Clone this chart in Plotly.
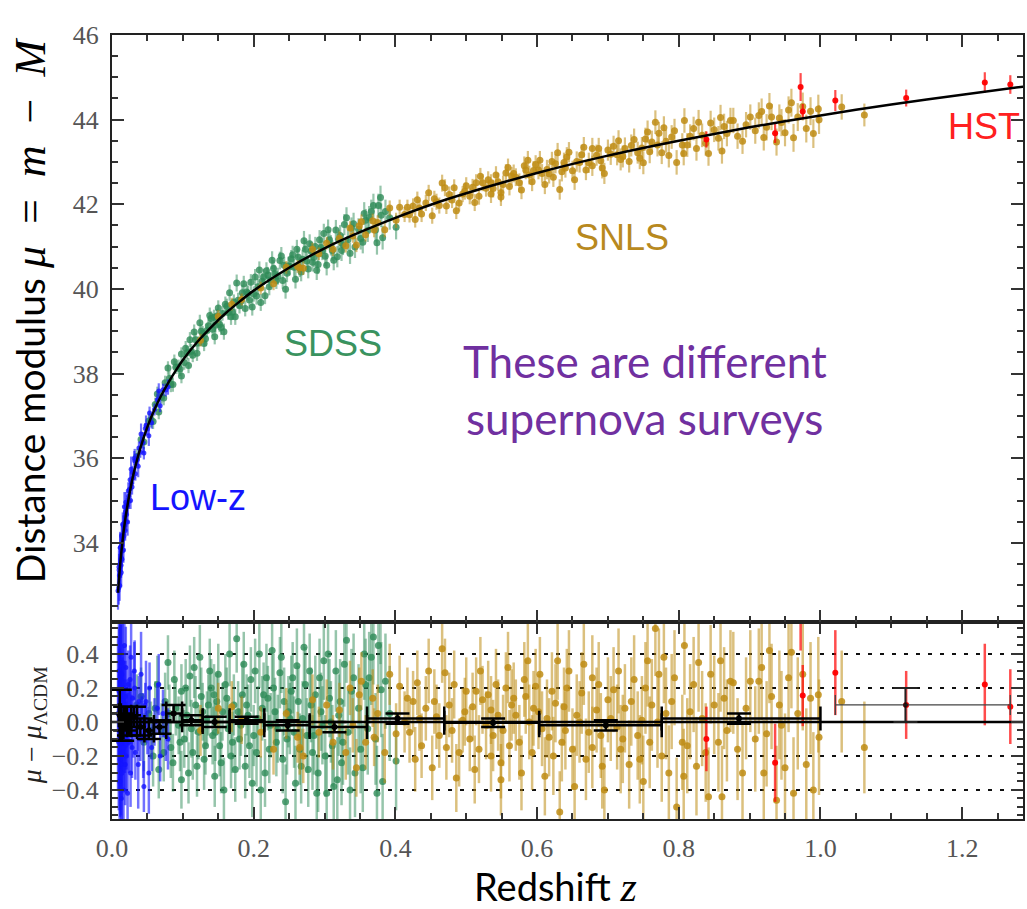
import plotly.graph_objects as go

# ---------------- model curve (LCDM) ----------------
curve_z = [0.0085, 0.009, 0.010, 0.012, 0.014, 0.016, 0.018, 0.020, 0.025, 0.030, 0.035, 0.040,
           0.050, 0.060, 0.070, 0.080, 0.090, 0.100, 0.120, 0.140, 0.160, 0.180, 0.200, 0.250,
           0.300, 0.350, 0.400, 0.450, 0.500, 0.600, 0.700, 0.800, 0.900, 1.000, 1.100, 1.200, 1.300]
curve_mu = [32.82, 32.95, 33.18, 33.58, 33.91, 34.21, 34.47, 34.70, 35.19, 35.60, 35.94, 36.24,
            36.74, 37.15, 37.50, 37.80, 38.07, 38.32, 38.74, 39.10, 39.42, 39.70, 39.96, 40.50,
            40.96, 41.34, 41.68, 41.99, 42.26, 42.74, 43.15, 43.50, 43.82, 44.10, 44.36, 44.59, 44.81]
zero_z = [0.0, 1.3]
zero_resid = [0.0, 0.0]

# ---------------- Low-z (blue) ----------------
lowz_z = [0.0085, 0.0095, 0.0098, 0.0100, 0.0105, 0.0108, 0.0110, 0.0115, 0.0118, 0.0120,
          0.0125, 0.0128, 0.0130, 0.0135, 0.0138, 0.0140, 0.0145, 0.0148, 0.0152, 0.0155,
          0.0160, 0.0162, 0.0168, 0.0172, 0.0175, 0.0182, 0.0186, 0.0190, 0.0195, 0.0200,
          0.0205, 0.0210, 0.0220, 0.0230, 0.0235, 0.0240, 0.0250, 0.0255, 0.0262, 0.0275,
          0.0283, 0.0290, 0.0300, 0.0315, 0.0330, 0.0345, 0.0360, 0.0380, 0.0400, 0.0420,
          0.0450, 0.0470, 0.0500, 0.0530, 0.0560, 0.0600, 0.0640, 0.0680, 0.0720, 0.0760,
          0.0320, 0.0370, 0.0410, 0.0440, 0.0480, 0.0520, 0.0270, 0.0220, 0.0175, 0.0130,
          0.0115, 0.0660, 0.0790]
lowz_mu = [32.87, 32.94, 33.43, 33.36, 33.23, 32.99, 33.49, 33.26, 33.89, 33.60,
           33.91, 33.47, 33.65, 33.91, 34.16, 33.61, 33.81, 34.16, 34.44, 34.10,
           34.41, 33.83, 34.16, 34.47, 34.43, 34.41, 34.29, 34.74, 34.96, 34.50,
           34.67, 34.86, 34.89, 35.23, 35.10, 34.98, 35.27, 35.49, 35.00, 35.40,
           35.32, 35.66, 35.54, 36.00, 35.63, 35.96, 35.97, 36.24, 36.14, 36.37,
           36.12, 36.70, 36.69, 37.07, 36.84, 37.15, 37.38, 37.24, 37.62, 37.61,
           35.94, 35.81, 36.57, 36.37, 36.77, 36.53, 35.74, 34.49, 34.85, 33.30,
           33.88, 37.59, 37.68]
lowz_dmu = [0.05, -0.12, 0.30, 0.18, -0.05, -0.35, 0.10, -0.22, 0.35, 0.02,
            0.25, -0.25, -0.10, 0.08, 0.28, -0.30, -0.18, 0.12, 0.35, -0.04,
            0.20, -0.40, -0.15, 0.10, 0.03, -0.08, -0.25, 0.15, 0.32, -0.20,
            -0.08, 0.05, -0.02, 0.22, 0.05, -0.12, 0.08, 0.25, -0.30, 0.00,
            -0.15, 0.14, -0.06, 0.30, -0.18, 0.05, -0.03, 0.12, -0.10, 0.02,
            -0.38, 0.10, -0.05, 0.20, -0.15, 0.00, 0.08, -0.20, 0.05, -0.08,
            0.20, -0.25, 0.28, -0.08, 0.12, -0.30, 0.38, -0.42, 0.45, -0.45,
            0.40, 0.22, -0.10]
lowz_err = [0.45, 0.40, 0.40, 0.38, 0.35, 0.36, 0.33, 0.34, 0.33, 0.30,
            0.32, 0.30, 0.28, 0.27, 0.30, 0.30, 0.28, 0.26, 0.28, 0.25,
            0.24, 0.30, 0.25, 0.24, 0.22, 0.22, 0.24, 0.21, 0.24, 0.22,
            0.20, 0.20, 0.19, 0.20, 0.19, 0.18, 0.17, 0.20, 0.20, 0.16,
            0.18, 0.16, 0.15, 0.17, 0.16, 0.14, 0.14, 0.15, 0.13, 0.13,
            0.15, 0.13, 0.14, 0.15, 0.14, 0.14, 0.15, 0.15, 0.14, 0.15,
            0.28, 0.26, 0.25, 0.25, 0.24, 0.24, 0.30, 0.32, 0.35, 0.35,
            0.38, 0.18, 0.18]

# ---------------- SDSS (green) ----------------
sdss_z = [0.035, 0.045, 0.052, 0.058, 0.064, 0.066, 0.070, 0.075, 0.079, 0.083,
          0.086, 0.090, 0.094, 0.098, 0.098, 0.102, 0.106, 0.108, 0.110, 0.114,
          0.118, 0.122, 0.124, 0.126, 0.130, 0.134, 0.138, 0.140, 0.142, 0.145,
          0.148, 0.150, 0.152, 0.156, 0.158, 0.160, 0.164, 0.166, 0.168, 0.170,
          0.172, 0.176, 0.180, 0.184, 0.186, 0.188, 0.190, 0.192, 0.196, 0.198,
          0.200, 0.204, 0.208, 0.212, 0.214, 0.216, 0.220, 0.224, 0.226, 0.228,
          0.232, 0.234, 0.237, 0.241, 0.243, 0.245, 0.249, 0.253, 0.255, 0.257,
          0.259, 0.261, 0.265, 0.269, 0.271, 0.273, 0.277, 0.281, 0.283, 0.285,
          0.289, 0.293, 0.297, 0.299, 0.303, 0.307, 0.311, 0.316, 0.318, 0.320,
          0.324, 0.328, 0.333, 0.338, 0.343, 0.348, 0.354, 0.358, 0.363, 0.366,
          0.372, 0.376, 0.379, 0.380, 0.382, 0.392, 0.401,
          0.041, 0.055, 0.061, 0.073, 0.081, 0.088, 0.096, 0.104, 0.112, 0.116,
          0.120, 0.128, 0.132, 0.136, 0.144, 0.146, 0.154, 0.162, 0.174, 0.178,
          0.182, 0.194, 0.202, 0.206, 0.210, 0.218, 0.222, 0.230, 0.239, 0.247,
          0.251, 0.263, 0.267, 0.275, 0.279, 0.287, 0.291, 0.295, 0.301, 0.305,
          0.309, 0.313, 0.322, 0.326, 0.331, 0.336, 0.341, 0.351, 0.356, 0.361,
          0.369, 0.374, 0.386]
sdss_mu = [36.04, 36.38, 36.88, 36.87, 37.52, 37.09, 37.45, 37.78, 38.13, 37.74,
           37.74, 38.15, 38.16, 38.46, 37.94, 38.26, 38.49, 38.19, 38.80, 38.43,
           38.80, 38.72, 39.20, 39.00, 38.71, 39.02, 39.37, 39.30, 39.05, 38.87,
           39.36, 39.55, 39.16, 39.42, 38.99, 39.64, 39.44, 39.91, 39.34, 39.45,
           39.69, 40.14, 39.60, 39.91, 40.12, 39.54, 39.93, 39.90, 40.16, 39.57,
           39.88, 39.83, 40.45, 40.18, 40.28, 39.84, 40.33, 40.21, 40.68, 40.48,
           40.20, 40.30, 40.67, 40.20, 40.56, 39.99, 40.55, 40.71, 40.81, 40.51,
           40.23, 40.94, 40.49, 40.70, 41.14, 40.94, 40.47, 40.89, 40.63, 40.75,
           40.44, 41.16, 40.91, 41.31, 40.56, 41.16, 40.91, 41.39, 40.76, 41.16,
           40.91, 41.52, 41.16, 41.44, 40.99, 41.41, 41.10, 41.62, 41.69, 41.83,
           41.39, 41.97, 42.16, 41.74, 41.21, 41.68, 41.46,
           36.44, 36.90, 37.27, 37.42, 37.89, 38.28, 38.11, 38.60, 38.53, 38.98,
           38.48, 38.95, 38.82, 39.13, 39.33, 39.14, 39.09, 39.59, 39.34, 39.73,
           39.71, 39.74, 40.28, 40.05, 39.68, 40.43, 40.05, 40.36, 40.78, 40.37,
           40.53, 40.75, 40.40, 40.66, 41.07, 41.00, 40.58, 40.98, 40.77, 41.40,
           41.03, 40.68, 41.26, 41.05, 41.68, 40.84, 41.54, 41.19, 41.78, 41.38,
           41.97, 41.09, 41.83]
sdss_dmu = [0.10, -0.12, 0.05, -0.20, 0.22, -0.28, -0.05, 0.12, 0.35, -0.15,
            -0.24, 0.08, -0.02, 0.18, -0.34, -0.10, 0.04, -0.30, 0.27, -0.18,
            0.10, -0.06, 0.38, 0.15, -0.22, 0.02, 0.30, 0.20, -0.08, -0.32,
            0.12, 0.28, -0.14, 0.06, -0.40, 0.22, -0.04, 0.40, -0.20, -0.12,
            0.10, 0.49, -0.10, 0.16, 0.34, -0.26, 0.10, 0.04, 0.25, -0.36,
            -0.08, -0.18, 0.40, 0.08, 0.16, -0.30, 0.14, -0.02, 0.42, 0.20,
            -0.12, -0.04, 0.29, -0.22, 0.12, -0.47, 0.06, 0.18, 0.26, -0.06,
            -0.36, 0.33, -0.16, 0.02, 0.44, 0.22, -0.28, 0.10, -0.18, -0.08,
            -0.42, 0.26, -0.02, 0.36, -0.42, 0.14, -0.14, 0.30, -0.34, 0.04,
            -0.24, 0.34, -0.06, 0.18, -0.30, 0.08, -0.27, 0.22, 0.26, 0.38,
            -0.10, 0.45, 0.62, 0.19, -0.35, 0.05, -0.23,
            0.15, -0.05, 0.08, -0.18, 0.05, 0.25, -0.12, 0.20, -0.04, 0.32,
            -0.26, 0.06, -0.14, 0.10, 0.16, -0.06, -0.24, 0.14, -0.28, 0.06,
            -0.02, -0.14, 0.30, 0.02, -0.40, 0.26, -0.16, 0.06, 0.38, -0.10,
            0.02, 0.12, -0.26, -0.08, 0.30, 0.16, -0.30, 0.06, -0.20, 0.40,
            0.00, -0.38, 0.12, -0.12, 0.48, -0.40, 0.26, -0.16, 0.40, -0.04,
            0.50, -0.42, 0.24]
sdss_err = [0.18, 0.17, 0.16, 0.18, 0.17, 0.17, 0.16, 0.17, 0.16, 0.18,
            0.17, 0.16, 0.17, 0.16, 0.17, 0.17, 0.16, 0.18, 0.18, 0.16,
            0.17, 0.16, 0.19, 0.17, 0.18, 0.16, 0.19, 0.17, 0.17, 0.18,
            0.17, 0.18, 0.18, 0.17, 0.19, 0.18, 0.17, 0.19, 0.19, 0.18,
            0.18, 0.20, 0.18, 0.19, 0.19, 0.19, 0.18, 0.18, 0.19, 0.20,
            0.18, 0.20, 0.20, 0.19, 0.19, 0.20, 0.19, 0.19, 0.21, 0.20,
            0.20, 0.20, 0.21, 0.20, 0.20, 0.22, 0.21, 0.21, 0.21, 0.21,
            0.22, 0.22, 0.21, 0.22, 0.23, 0.22, 0.22, 0.22, 0.22, 0.23,
            0.23, 0.23, 0.23, 0.23, 0.24, 0.23, 0.24, 0.24, 0.25, 0.24,
            0.25, 0.25, 0.25, 0.25, 0.26, 0.26, 0.26, 0.27, 0.27, 0.28,
            0.27, 0.28, 0.28, 0.28, 0.28, 0.28, 0.29,
            0.17, 0.17, 0.16, 0.17, 0.17, 0.17, 0.17, 0.17, 0.17, 0.18,
            0.18, 0.17, 0.17, 0.18, 0.18, 0.17, 0.18, 0.18, 0.19, 0.18,
            0.18, 0.19, 0.19, 0.19, 0.20, 0.20, 0.20, 0.20, 0.21, 0.21,
            0.21, 0.21, 0.22, 0.22, 0.22, 0.23, 0.23, 0.23, 0.24, 0.24,
            0.24, 0.24, 0.25, 0.25, 0.25, 0.25, 0.26, 0.26, 0.27, 0.27,
            0.28, 0.28, 0.28]

# ---------------- SNLS (gold) ----------------
snls_z = [0.125, 0.150, 0.169, 0.183, 0.210, 0.228, 0.246, 0.262, 0.265, 0.270,
          0.283, 0.292, 0.303, 0.312, 0.321, 0.330, 0.336, 0.340, 0.345, 0.349,
          0.352, 0.358, 0.368, 0.370, 0.375, 0.385, 0.392, 0.401, 0.406, 0.413,
          0.420, 0.425, 0.431, 0.437, 0.443, 0.452, 0.458, 0.466, 0.470, 0.472,
          0.476, 0.480, 0.486, 0.495, 0.500, 0.505, 0.509, 0.514, 0.518, 0.523,
          0.528, 0.535, 0.535, 0.542, 0.549, 0.549, 0.552, 0.559, 0.564, 0.570,
          0.575, 0.582, 0.584, 0.589, 0.593, 0.598, 0.602, 0.607, 0.611, 0.617,
          0.621, 0.626, 0.632, 0.638, 0.640, 0.645, 0.650, 0.656, 0.663, 0.669,
          0.678, 0.678, 0.684, 0.690, 0.692, 0.700, 0.708, 0.713, 0.718, 0.724,
          0.730, 0.737, 0.742, 0.748, 0.750, 0.756, 0.762, 0.767, 0.772, 0.776,
          0.782, 0.790, 0.797, 0.805, 0.807, 0.808, 0.812, 0.821, 0.828, 0.833,
          0.838, 0.842, 0.850, 0.856, 0.859, 0.861, 0.868, 0.873, 0.877, 0.890,
          0.901, 0.908, 0.913, 0.917, 0.924, 0.931, 0.938, 0.945, 0.950, 0.955,
          0.959, 0.962, 0.968, 0.980, 0.986, 0.997, 0.998, 1.030, 1.062,
          0.417, 0.428, 0.434, 0.447, 0.455, 0.462, 0.483, 0.490, 0.498, 0.512,
          0.520, 0.531, 0.538, 0.545, 0.556, 0.561, 0.567, 0.578, 0.587, 0.595,
          0.604, 0.614, 0.623, 0.629, 0.635, 0.642, 0.653, 0.660, 0.666, 0.673,
          0.687, 0.695, 0.704, 0.715, 0.721, 0.733, 0.745, 0.753, 0.759, 0.770,
          0.779, 0.786, 0.794, 0.816, 0.825, 0.845, 0.864, 0.883, 0.895, 0.920,
          0.928, 0.942, 0.975, 0.990]
snls_mu = [38.79, 39.35, 39.64, 39.75, 40.02, 40.12, 40.51, 40.53, 40.50, 40.49,
           40.94, 40.83, 41.08, 40.94, 41.20, 41.02, 41.44, 41.25, 41.04, 41.49,
           41.59, 41.28, 41.61, 41.39, 41.57, 41.40, 41.91, 41.62, 41.93, 41.76,
           41.75, 41.96, 42.11, 41.77, 42.03, 41.73, 42.06, 42.50, 42.39, 41.96,
           42.23, 42.10, 41.85, 42.24, 42.44, 42.19, 42.40, 42.51, 42.19, 42.51,
           42.38, 42.51, 42.24, 42.69, 42.27, 42.17, 42.47, 42.87, 42.67, 42.64,
           42.51, 42.91, 42.81, 42.69, 42.53, 42.94, 42.81, 42.73, 42.47, 42.72,
           43.01, 42.96, 42.35, 42.99, 42.86, 43.23, 42.79, 43.01, 43.17, 42.81,
           43.32, 42.91, 43.16, 43.03, 42.86, 43.28, 43.37, 43.17, 43.06, 43.32,
           43.01, 43.53, 43.22, 43.33, 42.98, 43.71, 43.47, 43.94, 43.68, 43.22,
           43.49, 43.59, 42.99, 43.40, 43.20, 43.98, 43.40, 43.79, 43.94, 43.63,
           43.44, 43.20, 43.76, 43.56, 44.05, 43.26, 43.67, 43.98, 43.98, 43.49,
           44.06, 43.74, 44.10, 44.19, 43.82, 44.06, 43.47, 43.93, 43.69, 44.23,
           44.40, 43.57, 44.06, 43.79, 44.20, 44.25, 44.00, 44.30, 44.11,
           41.93, 41.64, 41.91, 42.27, 42.13, 41.97, 42.39, 42.03, 42.31, 42.04,
           42.66, 42.58, 42.37, 42.53, 42.74, 42.42, 42.73, 42.34, 43.04, 42.80,
           43.04, 42.82, 42.64, 43.22, 42.77, 43.12, 42.58, 42.99, 43.35, 42.98,
           43.32, 42.73, 43.18, 43.50, 43.13, 43.39, 43.09, 43.54, 43.24, 43.40,
           43.81, 43.15, 43.74, 43.61, 43.32, 43.92, 43.84, 43.61, 43.88, 43.58,
           44.32, 44.04, 44.31, 43.67]
snls_dmu = [-0.05, 0.08, 0.09, 0.01, -0.06, -0.16, 0.05, -0.09, -0.15, -0.20,
            0.13, -0.06, 0.10, -0.12, 0.07, -0.18, 0.20, -0.02, -0.27, 0.16,
            0.24, -0.12, 0.14, -0.09, 0.05, -0.18, 0.28, -0.07, 0.21, 0.00,
            -0.06, 0.12, 0.23, -0.14, 0.08, -0.27, 0.03, 0.43, 0.29, -0.15,
            0.10, -0.05, -0.33, 0.01, 0.18, -0.10, 0.09, 0.18, -0.16, 0.13,
            -0.02, 0.07, -0.20, 0.22, -0.24, -0.34, -0.05, 0.32, 0.10, 0.04,
            -0.12, 0.25, 0.15, 0.00, -0.18, 0.21, 0.06, -0.04, -0.32, -0.09,
            0.18, 0.11, -0.53, 0.09, -0.05, 0.30, -0.16, 0.04, 0.17, -0.22,
            0.26, -0.15, 0.07, -0.08, -0.26, 0.13, 0.19, -0.03, -0.16, 0.08,
            -0.25, 0.25, -0.08, 0.01, -0.35, 0.36, 0.10, 0.55, 0.28, -0.20,
            0.05, 0.12, -0.50, -0.12, -0.32, 0.45, -0.14, 0.22, 0.35, 0.02,
            -0.18, -0.44, 0.10, -0.12, 0.36, -0.44, -0.05, 0.24, 0.23, -0.30,
            0.24, -0.10, 0.24, 0.32, -0.07, 0.15, -0.46, -0.02, -0.27, 0.26,
            0.41, -0.42, 0.05, -0.25, 0.14, 0.16, -0.09, 0.12, -0.15,
            0.14, -0.22, 0.02, 0.30, 0.12, -0.08, 0.22, -0.18, 0.06, -0.28,
            0.30, 0.16, -0.08, 0.04, 0.20, -0.14, 0.14, -0.30, 0.36, 0.08,
            0.28, 0.02, -0.20, 0.36, -0.12, 0.20, -0.38, 0.00, 0.34, -0.06,
            0.22, -0.40, 0.02, 0.30, -0.10, 0.12, -0.22, 0.20, -0.12, 0.00,
            0.38, -0.30, 0.26, 0.06, -0.26, 0.28, 0.14, -0.16, 0.08, -0.30,
            0.42, 0.10, 0.28, -0.40]
snls_err = [0.15, 0.15, 0.15, 0.14, 0.15, 0.15, 0.15, 0.15, 0.16, 0.16,
            0.15, 0.15, 0.15, 0.16, 0.16, 0.16, 0.16, 0.16, 0.17, 0.16,
            0.17, 0.16, 0.17, 0.17, 0.17, 0.18, 0.18, 0.18, 0.18, 0.18,
            0.18, 0.18, 0.19, 0.19, 0.19, 0.19, 0.19, 0.20, 0.20, 0.19,
            0.19, 0.19, 0.20, 0.19, 0.20, 0.19, 0.20, 0.20, 0.20, 0.20,
            0.20, 0.20, 0.21, 0.21, 0.21, 0.21, 0.21, 0.21, 0.21, 0.21,
            0.22, 0.22, 0.22, 0.22, 0.22, 0.22, 0.22, 0.22, 0.23, 0.23,
            0.23, 0.23, 0.24, 0.23, 0.23, 0.24, 0.24, 0.24, 0.24, 0.24,
            0.25, 0.24, 0.25, 0.25, 0.25, 0.25, 0.25, 0.25, 0.26, 0.26,
            0.26, 0.26, 0.26, 0.26, 0.27, 0.27, 0.27, 0.28, 0.27, 0.27,
            0.27, 0.28, 0.29, 0.28, 0.28, 0.29, 0.28, 0.28, 0.29, 0.28,
            0.29, 0.29, 0.29, 0.29, 0.30, 0.30, 0.30, 0.30, 0.30, 0.30,
            0.30, 0.31, 0.31, 0.31, 0.31, 0.31, 0.32, 0.32, 0.32, 0.32,
            0.33, 0.33, 0.33, 0.33, 0.33, 0.34, 0.34, 0.30, 0.27,
            0.18, 0.19, 0.19, 0.19, 0.19, 0.19, 0.20, 0.20, 0.20, 0.20,
            0.20, 0.20, 0.21, 0.21, 0.21, 0.21, 0.21, 0.22, 0.22, 0.22,
            0.22, 0.23, 0.23, 0.23, 0.23, 0.23, 0.24, 0.24, 0.24, 0.24,
            0.25, 0.25, 0.25, 0.25, 0.26, 0.26, 0.26, 0.27, 0.27, 0.27,
            0.27, 0.28, 0.28, 0.28, 0.29, 0.29, 0.30, 0.30, 0.30, 0.31,
            0.31, 0.32, 0.33, 0.34]

# ---------------- HST (red) ----------------
hst_z = [0.839, 0.936, 0.972, 0.975, 1.021, 1.121, 1.232, 1.268]
hst_mu = [43.53, 43.68, 44.77, 44.19, 44.45, 44.51, 44.88, 44.83]
hst_dmu = [-0.10, -0.24, 0.75, 0.155, 0.29, 0.10, 0.22, 0.09]
hst_err = [0.19, 0.23, 0.33, 0.18, 0.25, 0.20, 0.24, 0.22]

# ---------------- binned residuals (black) ----------------
bin_z = [0.0110, 0.0143, 0.0185, 0.0240, 0.0310, 0.0400, 0.0520, 0.0670, 0.0870,
         0.1120, 0.1450, 0.1900, 0.2480, 0.3140, 0.4030, 0.5380, 0.6970, 0.8850]
bin_dmu = [0.04, -0.03, 0.02, -0.02, 0.03, -0.03, -0.05, -0.03, 0.05,
           0.01, 0.00, 0.01, -0.02, -0.03, 0.02, -0.005, -0.02, 0.02]
bin_err = [0.15, 0.08, 0.07, 0.06, 0.06, 0.05, 0.05, 0.04, 0.05,
           0.03, 0.03, 0.02, 0.03, 0.03, 0.03, 0.025, 0.03, 0.03]
bin_zminus = [0.0013, 0.0018, 0.0023, 0.0030, 0.0038, 0.0047, 0.0063, 0.0079, 0.0104,
              0.0130, 0.0170, 0.0240, 0.0330, 0.0350, 0.0430, 0.0690, 0.0940, 0.1090]
bin_zplus = [0.0015, 0.0019, 0.0025, 0.0032, 0.0043, 0.0057, 0.0071, 0.0096, 0.0120,
             0.0160, 0.0210, 0.0250, 0.0310, 0.0460, 0.0660, 0.0650, 0.0790, 0.1150]
hstbin_z = [1.120]
hstbin_dmu = [0.10]
hstbin_err = [0.10]
hstbin_zminus = [0.099]
hstbin_zplus = [0.148]

x_ticks = [0.0, 0.2, 0.4, 0.6, 0.8, 1.0, 1.2]
mu_ticks = [34, 36, 38, 40, 42, 44, 46]
res_ticks = [-0.4, -0.2, 0.0, 0.2, 0.4]

# ---------------- styling ----------------
W, H = 1027, 909
L, R, T, B = 112, 2, 35, 90
split = 0.2513

FRAME = '#222222'
TICKC = '#333333'
SERIF = 'Liberation Serif, Times New Roman, serif'
SANS = 'Liberation Sans, Arial, sans-serif'
CAL = 'Lato, Open Sans, sans-serif'
TICKFONT = dict(family=SERIF, size=26, color='#555555')

surveys = [
    (sdss_z, sdss_mu, sdss_dmu, sdss_err, 'rgba(46,139,87,0.8)', 'rgba(46,139,87,0.5)', 7),
    (snls_z, snls_mu, snls_dmu, snls_err, 'rgba(190,140,20,0.85)', 'rgba(190,140,20,0.55)', 7),
    (lowz_z, lowz_mu, lowz_dmu, lowz_err, 'rgba(20,20,255,0.8)', 'rgba(20,20,255,0.6)', 5),
    (hst_z, hst_mu, hst_dmu, hst_err, 'rgba(255,0,0,0.95)', 'rgba(255,0,0,0.7)', 6),
]

fig = go.Figure()
for z, mu, dmu, err, cpt, cbar, sz in surveys:
    fig.add_trace(go.Scatter(
        x=z, y=mu, xaxis='x2', yaxis='y2', mode='markers',
        marker=dict(color=cpt, size=sz, line=dict(width=0)),
        error_y=dict(type='data', array=err, visible=True, color=cbar, thickness=2.2, width=0),
        showlegend=False, hoverinfo='skip'))
    fig.add_trace(go.Scatter(
        x=z, y=dmu, xaxis='x', yaxis='y', mode='markers',
        marker=dict(color=cpt, size=sz, line=dict(width=0)),
        error_y=dict(type='data', array=err, visible=True, color=cbar, thickness=2.5, width=0),
        showlegend=False, hoverinfo='skip'))

# model curve (top) and zero line (bottom)
fig.add_trace(go.Scatter(x=curve_z, y=curve_mu, xaxis='x2', yaxis='y2', mode='lines',
                         line=dict(color='black', width=2.5, shape='spline', smoothing=0.6),
                         showlegend=False, hoverinfo='skip'))
fig.add_trace(go.Scatter(x=zero_z, y=zero_resid, xaxis='x', yaxis='y', mode='lines',
                         line=dict(color='black', width=2.5),
                         showlegend=False, hoverinfo='skip'))

# binned points
fig.add_trace(go.Scatter(
    x=bin_z, y=bin_dmu, xaxis='x', yaxis='y', mode='markers',
    marker=dict(color='black', size=6),
    error_x=dict(type='data', symmetric=False, array=bin_zplus, arrayminus=bin_zminus,
                 color='black', thickness=2.5, width=12),
    error_y=dict(type='data', array=bin_err, color='black', thickness=2.5, width=12),
    showlegend=False, hoverinfo='skip'))
fig.add_trace(go.Scatter(
    x=hstbin_z, y=hstbin_dmu, xaxis='x', yaxis='y', mode='markers',
    marker=dict(color='rgba(0,0,0,0.6)', size=5),
    error_x=dict(type='data', symmetric=False, array=hstbin_zplus, arrayminus=hstbin_zminus,
                 color='#444444', thickness=1.3, width=10),
    error_y=dict(type='data', array=hstbin_err, color='#222222', thickness=2, width=12),
    showlegend=False, hoverinfo='skip'))


def ax(**kw):
    d = dict(showline=True, linecolor=FRAME, linewidth=2, mirror='allticks',
             ticks='inside', ticklen=12, tickwidth=2, tickcolor=TICKC,
             showgrid=False, zeroline=False, tickfont=TICKFONT)
    d.update(kw)
    return d


xrange_ = [0, (W - L - R) / 710.0]
minor_x = dict(ticks='inside', ticklen=6, tickwidth=2, tickcolor=TICKC, dtick=0.05, tick0=0)

fig.update_layout(
    width=W, height=H,
    margin=dict(l=L, r=R, t=T, b=B, pad=0),
    paper_bgcolor='white', plot_bgcolor='white',
    showlegend=False,
    xaxis=ax(domain=[0, 1], anchor='y', range=xrange_, tickmode='array', tickvals=x_ticks,
             tickformat='.1f', minor=minor_x, ticklabelstandoff=5),
    yaxis=ax(domain=[0, split], anchor='x', range=[-0.571, 0.588], tickmode='array',
             tickvals=res_ticks, tickformat='.1f',
             minor=dict(ticks='inside', ticklen=6, tickwidth=2, tickcolor=TICKC, dtick=0.05, tick0=0),
             showgrid=True, gridcolor='#111111', gridwidth=2, griddash='4px,8px',
             ticklabelstandoff=6),
    xaxis2=ax(domain=[0, 1], anchor='y2', matches='x', range=xrange_, tickmode='array',
              tickvals=x_ticks, showticklabels=False, minor=minor_x),
    yaxis2=ax(domain=[split, 1], anchor='x2', range=[32.13, 46], tickmode='array',
              tickvals=mu_ticks,
              minor=dict(ticks='inside', ticklen=6, tickwidth=2, tickcolor=TICKC, dtick=0.5, tick0=0),
              ticklabelstandoff=6),
)


def px(x):
    return (x - L) / (W - L - R)


def py(y):
    return (H - B - y) / (H - T - B)


SP = '\u2002'
math_title = ('<span style="font-family:Liberation Serif;font-size:44px">'
              '<i>μ</i>' + SP + '=' + SP + '<i>m</i>' + SP + '−' + SP + '<i>M</i></span>')
ann = [
    # axis titles
    dict(text='Distance modulus ' + math_title,
         x=px(31), y=py(310), textangle=-90, font=dict(family=CAL, size=39, color='black')),
    dict(text='<i>μ</i> − <i>μ</i><sub>ΛCDM</sub>',
         x=px(33), y=py(725), textangle=-90, font=dict(family=SERIF, size=28, color='#222222')),
    dict(text='Redshift <span style="font-family:Liberation Serif;font-size:42px"><i>z</i></span>',
         x=px(556), y=py(886), font=dict(family=CAL, size=38, color='black')),
    # survey labels
    dict(text='Low-z', x=px(148), y=py(497), xanchor='left', font=dict(family=SANS, size=36, color='#1414ff')),
    dict(text='SDSS', x=px(282), y=py(343), xanchor='left', font=dict(family=SANS, size=36, color='#3a935f')),
    dict(text='SNLS', x=px(574), y=py(237), xanchor='left', font=dict(family=SANS, size=36, color='#b8891e')),
    dict(text='HST', x=px(948), y=py(127), xanchor='left', font=dict(family=SANS, size=36, color='#ff2020')),
    # purple note
    dict(text='These are different', x=px(646), y=py(361), font=dict(family=CAL, size=44, color='#7030a0')),
    dict(text='supernova surveys', x=px(646), y=py(418), font=dict(family=CAL, size=44, color='#7030a0')),
]
for a in ann:
    a.setdefault('xanchor', 'center')
    a.setdefault('yanchor', 'middle')
    a.update(xref='paper', yref='paper', showarrow=False)
fig.update_layout(annotations=ann)

fig.write_html('out.html', include_plotlyjs=True, full_html=True)
